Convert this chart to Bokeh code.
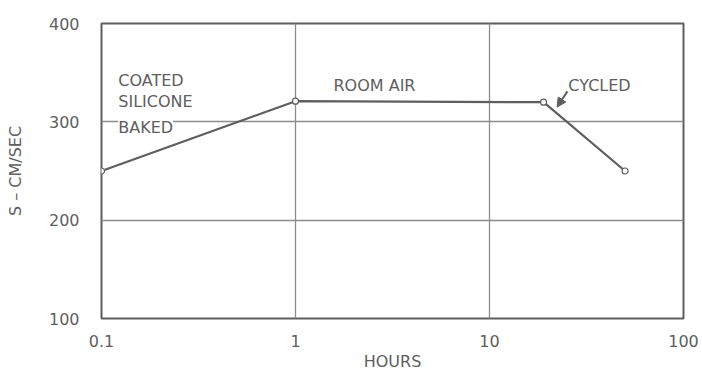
from bokeh.plotting import figure
from bokeh.models import (FixedTicker, CustomJSTickFormatter, Arrow, NormalHead,
                          ColumnDataSource, LabelSet)
from bokeh.core.properties import value
from bokeh.embed import file_html
from bokeh.resources import INLINE

# Data
hours = [0.1, 1.0, 19.0, 50.0]
s_cm_sec = [250, 321, 320, 250]
x_ticks = [0.1, 1, 10, 100]
y_ticks = [100, 200, 300, 400]
note_texts = ["COATED", "SILICONE", "BAKED", "ROOM AIR", "CYCLED"]
note_x = [0.122, 0.122, 0.122, 1.57, 25.5]
note_y = [342.5, 320.5, 294.5, 337.0, 336.5]

INK = "#5e5e5e"
FONT = "DejaVu Sans"

p = figure(width=702, height=373, x_axis_type="log", x_range=(0.1, 100), y_range=(100, 400),
           output_backend="svg", toolbar_location=None,
           min_border_left=101, min_border_right=19, min_border_top=23, min_border_bottom=51)
p.background_fill_color = "white"
p.border_fill_color = "white"
p.outline_line_color = INK
p.outline_line_width = 2

for ax in (p.xaxis[0], p.yaxis[0]):
    ax.axis_line_color = None
    ax.major_tick_line_color = None
    ax.minor_tick_line_color = None
    ax.major_label_text_font = FONT
    ax.major_label_text_font_size = "16px"
    ax.major_label_text_color = INK
    ax.axis_label_text_font = FONT
    ax.axis_label_text_font_size = "16px"
    ax.axis_label_text_font_style = "normal"
    ax.axis_label_text_color = INK

p.xaxis.ticker = FixedTicker(ticks=x_ticks, minor_ticks=[])
p.xaxis.formatter = CustomJSTickFormatter(code="return tick < 0.5 ? tick.toFixed(1) : tick.toFixed(0);")
p.xaxis.major_label_standoff = 10
p.xaxis.axis_label = "HOURS"
p.xaxis.axis_label_standoff = 2

p.yaxis.ticker = FixedTicker(ticks=y_ticks, minor_ticks=[])
p.yaxis.major_label_standoff = 16
p.yaxis.axis_label = "S – CM/SEC"
p.yaxis.axis_label_standoff = 21

p.xgrid.ticker = FixedTicker(ticks=x_ticks, minor_ticks=[])
p.ygrid.ticker = FixedTicker(ticks=y_ticks, minor_ticks=[])
p.xgrid.grid_line_color = "#8c8c8c"
p.ygrid.grid_line_color = "#8c8c8c"
p.xgrid.grid_line_width = 1.3
p.ygrid.grid_line_width = 1.3

src = ColumnDataSource(dict(x=hours, y=s_cm_sec))
p.line("x", "y", source=src, line_color=INK, line_width=2.2)
p.scatter("x", "y", source=src, marker="circle", size=6, fill_color="white",
          line_color=INK, line_width=1.2)

notes = ColumnDataSource(dict(x=note_x, y=note_y, t=note_texts))
p.add_layout(LabelSet(x="x", y="y", text="t", source=notes, text_font=value(FONT),
                      text_font_size="16px", text_color=INK, text_baseline="middle",
                      text_align="left", background_fill_color="white", border_line_color=None))

p.add_layout(Arrow(end=NormalHead(size=9, fill_color=INK, line_color=INK),
                   x_start=25.2, y_start=331, x_end=22.3, y_end=315,
                   line_color=INK, line_width=2))

open("out.html", "w").write(file_html(p, INLINE))
